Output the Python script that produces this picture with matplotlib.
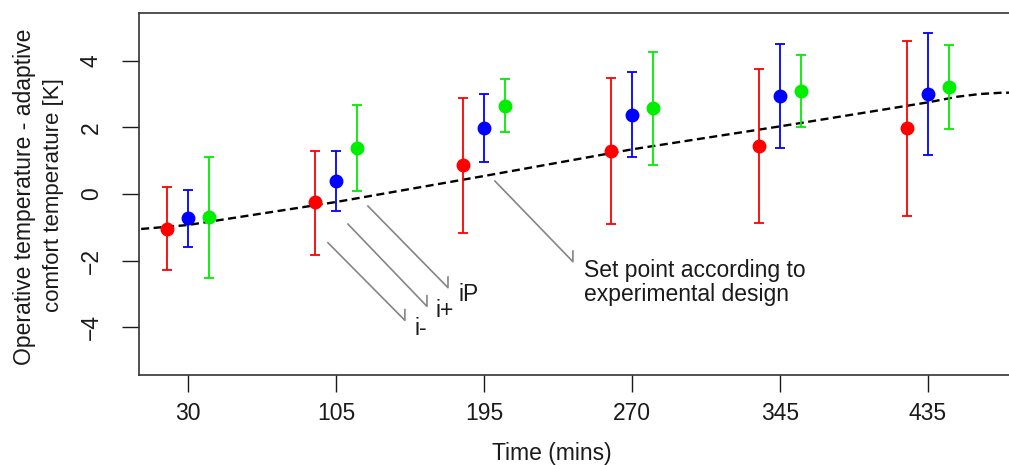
import numpy as np
import matplotlib
matplotlib.use("Agg")
import matplotlib.pyplot as plt

plt.rcParams['font.family'] = ['Liberation Sans', 'DejaVu Sans']

# Time points (categorical) and the three conditions (i-, i+, iP)
times = ["30", "105", "195", "270", "345", "435"]

red_mean = [-1.04, -0.24, 0.87, 1.28, 1.43, 1.97]
red_low = [-2.27, -1.82, -1.16, -0.90, -0.87, -0.65]
red_high = [0.21, 1.28, 2.87, 3.49, 3.76, 4.60]

blue_mean = [-0.72, 0.39, 1.97, 2.36, 2.93, 3.00]
blue_low = [-1.58, -0.51, 0.95, 1.10, 1.39, 1.17]
blue_high = [0.12, 1.28, 3.01, 3.67, 4.49, 4.82]

green_mean = [-0.69, 1.37, 2.63, 2.57, 3.10, 3.20]
green_low = [-2.51, 0.09, 1.85, 0.87, 2.01, 1.94]
green_high = [1.10, 2.66, 3.46, 4.27, 4.18, 4.48]

# Set point according to experimental design (position in category units, value)
setpoint_pos = [0.6, 1.0, 2.0, 3.0, 4.0, 5.0, 6.0, 6.2, 6.35, 6.5, 7.0]
setpoint_val = [-1.08, -0.93, -0.24, 0.54, 1.34, 2.03, 2.75, 2.92, 3.0, 3.04, 3.04]

fig = plt.figure(figsize=(10.09, 4.65), dpi=100)
ax = fig.add_axes([0.1378, 0.1935, 0.914, 0.7785])

x = np.arange(1, len(times) + 1)
offset = 0.142
fs = 16.5
txt_col = '#1a1a1a'

ax.plot(setpoint_pos, setpoint_val, color='black', linestyle=(0, (3.4, 1.9)), linewidth=1.7, zorder=2)

series = [
    (red_mean, red_low, red_high, '#ff0000', -offset),
    (blue_mean, blue_low, blue_high, '#0000ff', 0.0),
    (green_mean, green_low, green_high, '#00ee00', offset),
]
for mean, low, high, col, dx in series:
    mean = np.array(mean)
    err = [mean - np.array(low), np.array(high) - mean]
    ax.errorbar(x + dx, mean, yerr=err, fmt='o', color=col, ecolor=col,
                markersize=9, elinewidth=1.3, capsize=3.8, capthick=1.3, zorder=3)

# leader lines for the labels
gray = '#858585'
leaders = [
    ((1.946, -1.46), (2.466, -3.79)),
    ((2.081, -0.90), (2.615, -3.37)),
    ((2.216, -0.36), (2.757, -2.81)),
    ((3.074, 0.39), (3.601, -2.03)),
]
for (x0, y0), (x1, y1) in leaders:
    ax.plot([x0, x1, x1], [y0, y1, y1 + 0.32], color=gray, linewidth=1.2, zorder=1)

labels = [
    ("i-", 2.534, -4.24),
    ("i+", 2.676, -3.70),
    ("iP", 2.831, -3.22),
    ("Set point according to", 3.676, -2.48),
    ("experimental design", 3.676, -3.22),
]
for label, tx, ty in labels:
    ax.text(tx, ty, label, fontsize=fs, ha='left', va='baseline', color=txt_col)

ax.set_xlim(0.67, 6.9)
ax.set_ylim(-5.43, 5.43)
ax.set_xticks(x)
ax.set_xticklabels(times, fontsize=fs)
ax.set_yticks([-4, -2, 0, 2, 4])
ax.set_yticklabels(["\u22124", "\u22122", "0", "2", "4"], fontsize=fs, rotation=90, va='center')
ax.tick_params(direction='out', length=12.2, width=1.0, colors=txt_col)
ax.tick_params(axis='x', pad=7)
ax.tick_params(axis='y', pad=14)
for s in ax.spines.values():
    s.set_linewidth(1.2)
    s.set_color('#333333')

fig.text(552 / 1009, 1 - 460 / 465, "Time (mins)", fontsize=fs, ha='center', va='baseline', color=txt_col)
fig.text(25 / 1009, 1 - 197 / 465, "Operative temperature - adaptive", fontsize=fs,
         rotation=90, ha='center', va='center', color=txt_col)
fig.text(54 / 1009, 1 - 195 / 465, "comfort temperature [K]", fontsize=16,
         rotation=90, ha='center', va='center', color=txt_col)

fig.savefig("out.png", dpi=100)
